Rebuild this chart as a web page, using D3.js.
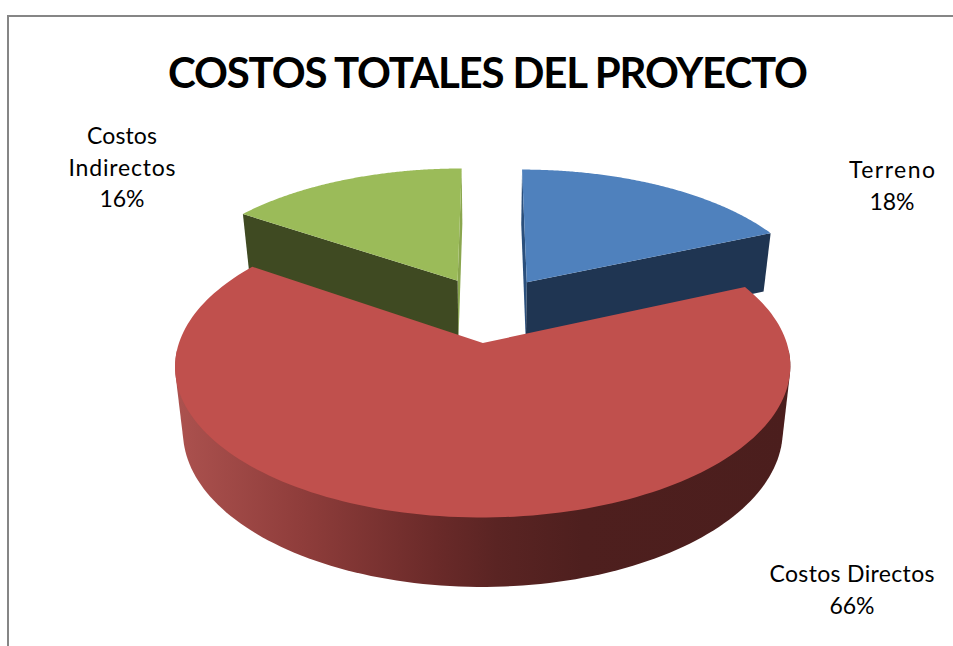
<!DOCTYPE html>
<html lang="es">
<head>
<meta charset="utf-8">
<style>
  html, body { margin: 0; padding: 0; background: #fff; }
  svg { display: block; }
  text { font-family: Lato, "Open Sans", sans-serif; fill: #000; }
</style>
<script src="https://cdn.jsdelivr.net/npm/d3@7/dist/d3.min.js"></script>
</head>
<body>
<svg id="chart" width="953" height="646"></svg>
<script>
// ---- data ----
const chartTitle = "COSTOS TOTALES DEL PROYECTO";
const categories = ["Terreno", "Costos Directos", "Costos Indirectos"];
const values = [18.4, 66.1, 15.5];
const percentLabels = ["18%", "66%", "16%"];

// ---- styles and layout ----
const topColors = ["#4f81bd", "#c0504d", "#9bbb59"];
const wallColors = ["#1f3552", "#4d1f1e", "#3f4a22"];
const innerWallColors = ["#2a4f7c", "#4d1f1e", "#8aa64e"];
const W = 953, H = 646;
const cx = 489.5, cy = 309;      // projected centre of the un-exploded pie
const radiusX = 293, radiusY = 137;
const persp = 0.15;              // perspective strength
const explode = 0.24;            // slice explosion, in pie radii
const baseShrink = 0.975;        // bottom rim converges slightly
const labelLayout = [
  { x: 892, y: 178, lines: ["Terreno", "18%"], w: [86, 45] },
  { x: 852, y: 582, lines: ["Costos Directos", "66%"], w: [165, 45] },
  { x: 122, y: 144, lines: ["Costos", "Indirectos", "16%"], w: [70, 107, 45] }
];

const svg = d3.select("#chart");

// ---- projection of a pie-plane point (unit radius) ----
function project(px, py, lower) {
  const s = 1 / (1 - persp * py);
  const X = radiusX * px * s, Y = radiusY * py * s;
  if (!lower) return [cx + X, cy + Y];
  return [cx + X * baseShrink, cy + Y + 62 + 6 * py];
}

const pie = d3.pie().sort(null).value(d => d);
const arcs = pie(values);
const line = d3.line();

function slicePoint(a, r, theta, lower) {
  const mid = (a.startAngle + a.endAngle) / 2;
  const ox = explode * Math.sin(mid), oy = -explode * Math.cos(mid);
  return project(ox + r * Math.sin(theta), oy - r * Math.cos(theta), lower);
}
function rim(a, lower) {
  const step = (a.endAngle - a.startAngle) / 160;
  return d3.range(0, 161).map(i => slicePoint(a, 1, a.startAngle + i * step, lower));
}

// red wall gradient
const defs = svg.append("defs");
const gradient = defs.append("linearGradient").attr("id", "redWall")
  .attr("gradientUnits", "userSpaceOnUse")
  .attr("x1", 180).attr("x2", 790).attr("y1", 0).attr("y2", 0);
[[0, "#ab514e"], [0.2, "#8f3d3b"], [0.42, "#6a2a29"], [0.52, "#5a2423"], [0.66, "#4e1f1e"], [1, "#4b1e1d"]]
  .forEach(([o, c]) => gradient.append("stop").attr("offset", o).attr("stop-color", c));

// frame
svg.append("path").attr("d", `M8,${H}V16H${W}`).attr("fill", "none")
  .attr("stroke", "#868686").attr("stroke-width", 2);

// slices back to front
[0, 2, 1].forEach(i => {
  const a = arcs[i];
  const g = svg.append("g").attr("class", "slice");
  if (i !== 1) {
    // cut faces along the start/end radii
    const faces = [a.startAngle, a.endAngle].map(t => [
      slicePoint(a, 0, t, false), slicePoint(a, 1, t, false),
      slicePoint(a, 1, t, true), slicePoint(a, 0, t, true)
    ]);
    const outer = i === 0 ? faces[1] : faces[0];
    const inner = i === 0 ? faces[0] : faces[1];
    g.append("path").attr("d", line(inner) + "Z").attr("fill", innerWallColors[i]);
    g.append("path").attr("d", line(outer) + "Z").attr("fill", wallColors[i]);
  } else {
    // outer wall: the swept silhouette of the front of the rim
    const frontY = cy + radiusY * 0.3;
    const frontPoints = rim(a, false).filter(p => p[1] > frontY).concat(rim(a, true).filter(p => p[1] > frontY));
    g.append("path").attr("d", line(d3.polygonHull(frontPoints)) + "Z").attr("fill", "url(#redWall)");
  }
  const top = [slicePoint(a, 0, a.startAngle, false)].concat(rim(a, false));
  g.append("path").attr("d", line(top) + "Z").attr("fill", topColors[i]);
});

// title
svg.append("text").attr("x", 488).attr("y", 88).attr("text-anchor", "middle")
  .attr("font-size", 42).attr("font-weight", 700)
  .attr("textLength", 640).attr("lengthAdjust", "spacing").text(chartTitle);

// labels
labelLayout.forEach(l => {
  l.lines.forEach((t, i) => {
    svg.append("text").attr("x", l.x).attr("y", l.y + i * 31.5)
      .attr("text-anchor", "middle").attr("font-size", 23)
      .attr("textLength", l.w[i]).attr("lengthAdjust", "spacing").text(t);
  });
});
</script>
</body>
</html>
